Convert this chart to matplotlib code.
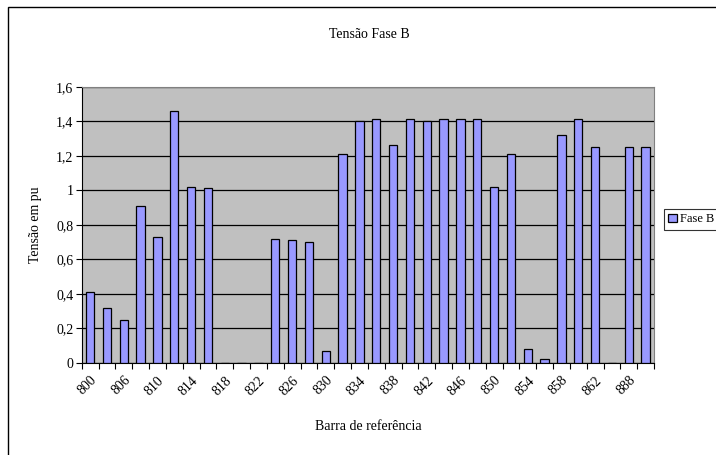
import matplotlib
matplotlib.use("Agg")
import matplotlib.pyplot as plt
import numpy as np
from matplotlib.patches import Rectangle
from matplotlib.ticker import FuncFormatter, FixedLocator

# Bus numbers (IEEE 34) and phase B voltage in pu
buses = [800, 802, 806, 808, 810, 812, 814, 816, 818, 820, 822, 824,
         826, 828, 830, 832, 834, 836, 838, 840, 842, 844, 846, 848,
         850, 852, 854, 856, 858, 860, 862, 864, 888, 890]
tensao_b = [0.41, 0.32, 0.25, 0.91, 0.73, 1.46, 1.02, 1.01, 0.0, 0.0, 0.0, 0.72,
            0.71, 0.70, 0.07, 1.21, 1.40, 1.41, 1.26, 1.41, 1.40, 1.41, 1.41, 1.41,
            1.02, 1.21, 0.08, 0.02, 1.32, 1.41, 1.25, 0.0, 1.25, 1.25]
y_ticks = [0, 0.2, 0.4, 0.6, 0.8, 1.0, 1.2, 1.4, 1.6]

plt.rcParams["font.family"] = ["Liberation Serif", "DejaVu Serif"]
FS = 10

W, H = 716, 455
fig = plt.figure(figsize=(W / 100, H / 100), dpi=100)

# outer chart frame (cropped on the right and bottom)
fig.patches.append(Rectangle((8 / W, -0.05), 1.1, 1 - 7 / H + 0.05,
                             transform=fig.transFigure, fill=False,
                             edgecolor="black", linewidth=1.0))

ax = fig.add_axes([81.7 / W, 1 - 362.7 / H, (654 - 81.7) / W, (362.7 - 86.7) / H])
ax.set_facecolor("#C0C0C0")

x = np.arange(len(buses))
ax.bar(x, tensao_b, width=0.5, color="#9999FF", edgecolor="black",
       linewidth=0.9, label="Fase B", zorder=3)

ax.set_xlim(-0.5, len(buses) - 0.5)
ax.set_ylim(0, 1.6)

ax.set_yticks(y_ticks)
ax.yaxis.set_major_formatter(FuncFormatter(
    lambda v, _p: f"{v:g}".replace(".", ",")))
ax.grid(axis="y", color="black", linewidth=0.9, zorder=1)
ax.set_axisbelow(True)

# category boundaries as tick marks, labels every other bus
ax.xaxis.set_major_locator(FixedLocator(np.arange(-0.5, len(buses), 1.0)))
ax.set_xticklabels([])
ax.set_xticks(x[::2], minor=True)
ax.set_xticklabels([str(b) for b in buses[::2]], minor=True,
                   rotation=45, ha="right", va="top", fontsize=FS,
                   rotation_mode="anchor")
ax.tick_params(axis="x", which="minor", length=0, pad=8)
ax.tick_params(axis="x", which="major", length=4, direction="out", width=0.8)
ax.tick_params(axis="y", length=4, direction="out", width=0.8, labelsize=FS, pad=2)

for side in ("top", "right"):
    ax.spines[side].set_color("#808080")
for side in ("left", "bottom"):
    ax.spines[side].set_color("black")

fig.text(369 / W, 1 - 34 / H, "Tensão Fase B", ha="center", va="center", fontsize=FS)
fig.text(368.5 / W, 1 - 427 / H, "Barra de referência", ha="center", va="center",
         fontsize=FS)
fig.text(35 / W, 1 - 225 / H, "Tensão em pu", ha="center", va="center",
         rotation=90, fontsize=FS)

# legend sits at the right edge, as in the reference
leg = ax.legend(loc="upper left", bbox_to_anchor=(664 / W, 1 - 209 / H),
                bbox_transform=fig.transFigure, fontsize=9, frameon=True,
                fancybox=False, edgecolor="black", handlelength=0.7,
                handleheight=0.7, handletextpad=0.25, borderpad=0.35,
                borderaxespad=0)
leg.get_frame().set_linewidth(0.8)

fig.savefig("out.png", dpi=100)
